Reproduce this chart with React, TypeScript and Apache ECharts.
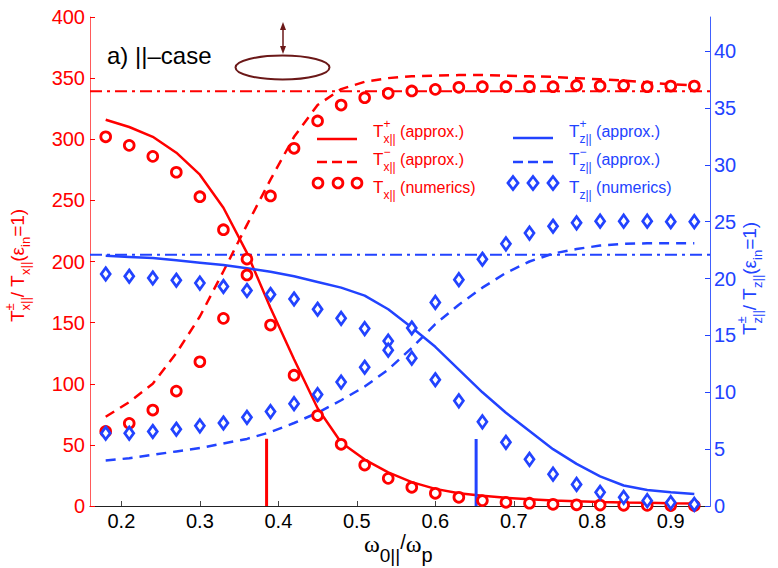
import React, { useEffect, useRef } from "react";
import * as echarts from "echarts";

// ---------------- data ----------------
const X_MIN = 0.16;
const X_MAX = 0.95;
const xTickValues = [0.2, 0.3, 0.4, 0.5, 0.6, 0.7, 0.8, 0.9];
const rightTickValues = [0, 5, 10, 15, 20, 25, 30, 35, 40];

const omega = [0.18, 0.21, 0.24, 0.27, 0.30, 0.33, 0.36, 0.39, 0.42, 0.45, 0.48, 0.51, 0.54,
  0.57, 0.60, 0.63, 0.66, 0.69, 0.72, 0.75, 0.78, 0.81, 0.84, 0.87, 0.90, 0.93];

// left axis (T_x)
const txPlusApprox = [316, 310, 302, 289, 271, 244, 207, 162, 120, 80, 52, 38, 27.5, 19.5, 14,
  10.4, 8.3, 6.7, 5.5, 4.6, 3.9, 3.3, 2.9, 2.6, 2.3, 2.1];
const txMinusApprox = [73, 85, 100, 125, 155, 192, 230, 267, 302, 328, 341, 347, 350, 351.5, 352,
  352.5, 352.5, 352, 351.5, 351, 350, 349, 348, 346.5, 345, 344];
const txPlusNum = [302, 295, 286, 273, 253, 226, 189, 148, 107, 74, 50.5, 33.5, 22.6, 15.3, 10.4,
  7.1, 4.4, 3.0, 2.3, 1.4, 1.0, 0.8, 0.6, 0.5, 0.4, 0.3];
const txMinusNum = [61, 67.6, 78.5, 94, 118, 153.5, 202, 253.6, 292.6, 315, 328, 334, 337.6, 339.5,
  340.8, 342.5, 343, 343, 343, 343, 344, 343.6, 344, 343, 343.5, 343.5];
const txReference = 339.2;
const txResonance = [0.385, 55];

// right axis (T_z)
const tzPlusApprox = [22.0, 21.9, 21.8, 21.6, 21.4, 21.2, 20.9, 20.6, 20.2, 19.7, 19.2, 18.5, 17.3,
  15.7, 14.0, 12.0, 10.0, 8.2, 6.6, 5.0, 3.7, 2.6, 1.8, 1.4, 1.2, 1.05];
const tzMinusApprox = [4.0, 4.2, 4.5, 4.8, 5.1, 5.5, 5.9, 6.5, 7.3, 8.2, 9.3, 10.5, 12.0, 13.9, 16.0,
  17.7, 19.2, 20.5, 21.5, 22.2, 22.6, 22.9, 23.05, 23.1, 23.1, 23.1];
const tzPlusNum = [20.4, 20.2, 20.05, 19.85, 19.6, 19.3, 18.95, 18.6, 18.2, 17.3, 16.5, 15.6, 14.5,
  13.0, 11.1, 9.25, 7.4, 5.6, 4.1, 2.8, 1.9, 1.2, 0.76, 0.47, 0.3, 0.15];
const tzMinusNum = [6.4, 6.4, 6.55, 6.75, 7.05, 7.3, 7.8, 8.3, 9.0, 9.8, 10.9, 12.2, 13.7, 15.65,
  17.9, 19.9, 21.7, 23.05, 24.0, 24.6, 24.9, 25.05, 25.05, 25.05, 25.0, 25.0];
const tzReference = 22.1;
const tzResonance = [0.652, 5.9];

// ---------------- styles ----------------
const RED = "#ff0000";
const BLUE = "#2243ff";
const MAROON = "#6b1818";
const SANS = '"Liberation Sans", Arial, sans-serif';
const SERIF = '"Liberation Serif", "Times New Roman", serif';

const zip = (ys: number[]) => omega.map((x, i) => [x, ys[i]]);

type Piece = { t: string; s: number; dy?: number; f?: string; lh?: number };
type Seg = Piece | { sup: Piece; sub: Piece };

let ctx: CanvasRenderingContext2D | null = null;
function measure(t: string, size: number, fam: string) {
  if (!ctx) ctx = document.createElement("canvas").getContext("2d");
  ctx!.font = `${size}px ${fam}`;
  return ctx!.measureText(t).width;
}

function textEl(p: Piece, x: number, y: number, color: string) {
  return {
    type: "text",
    x,
    y: y + (p.dy || 0),
    silent: true,
    style: {
      text: p.t,
      fill: color,
      fontSize: p.s,
      fontFamily: p.f || SANS,
      lineHeight: p.lh || p.s,
      align: "left",
      verticalAlign: "middle",
    },
  };
}

function layoutRow(segs: Seg[], x0: number, y0: number, color: string) {
  const out: any[] = [];
  let x = x0;
  for (const sg of segs) {
    if ("sup" in sg) {
      if (sg.sup.t) out.push(textEl(sg.sup, x, y0, color));
      out.push(textEl(sg.sub, x, y0, color));
      x += Math.max(
        sg.sup.t ? measure(sg.sup.t, sg.sup.s, sg.sup.f || SANS) : 0,
        measure(sg.sub.t, sg.sub.s, sg.sub.f || SANS)
      );
    } else {
      out.push(textEl(sg, x, y0, color));
      x += measure(sg.t, sg.s, sg.f || SANS);
    }
  }
  return out;
}

function axisName(sub: string, color: string, gx: number, gy: number) {
  const segs: Seg[] = [
    { t: "T", s: 19 },
    { sup: { t: "\u00b1", s: 13, dy: -8, lh: 11 }, sub: { t: sub, s: 13, dy: 8, lh: 11 } },
    { t: "/ T", s: 19 },
    { t: sub, s: 13, dy: 8, lh: 11 },
    { t: "(\u03b5", s: 19 },
    { t: "in", s: 13, dy: 8, lh: 11 },
    { t: "=1)", s: 19 },
  ];
  return {
    type: "group",
    x: gx,
    y: gy,
    rotation: Math.PI / 2,
    children: layoutRow(segs, 0, 0, color),
  };
}

function legendText(sign: string, sub: string, label: string, x: number, y: number, color: string) {
  return layoutRow(
    [
      { t: "T", s: 17 },
      { sup: { t: sign, s: 12, dy: -7, lh: 10 }, sub: { t: sub, s: 12, dy: 8, lh: 10 } },
      { t: " " + label, s: 16 },
    ],
    x,
    y,
    color
  );
}

function diamond(cx: number, cy: number) {
  return {
    type: "polygon",
    shape: { points: [[cx, cy - 6.5], [cx + 5, cy], [cx, cy + 6.5], [cx - 5, cy]] },
    style: { fill: "#fff", stroke: BLUE, lineWidth: 2.8 },
  };
}

function ring(cx: number, cy: number) {
  return {
    type: "circle",
    shape: { cx, cy, r: 4.9 },
    style: { fill: "#fff", stroke: RED, lineWidth: 2.8 },
  };
}

export default function App() {
  const ref = useRef<HTMLDivElement>(null);

  useEffect(() => {
    if (!ref.current) return;
    const chart = echarts.init(ref.current, undefined, { renderer: "svg" });

    const dashDot = [12, 5, 3, 5];
    const lineW = 2.5;

    const graphic: any[] = [
      // title
      {
        type: "text",
        x: 107,
        y: 55,
        style: { text: "a) ||\u2013case", fill: "#000", fontSize: 24, fontFamily: SANS, verticalAlign: "middle" },
      },
      // ellipse with double arrow
      {
        type: "ellipse",
        shape: { cx: 282.5, cy: 67.5, rx: 47, ry: 12 },
        style: { fill: "none", stroke: MAROON, lineWidth: 2 },
      },
      { type: "line", shape: { x1: 283, y1: 27, x2: 283, y2: 49 }, style: { stroke: MAROON, lineWidth: 1.5 } },
      { type: "polygon", shape: { points: [[283, 22], [280, 30], [286, 30]] }, style: { fill: MAROON } },
      { type: "polygon", shape: { points: [[283, 54], [280, 46], [286, 46]] }, style: { fill: MAROON } },
      // legend — red column
      { type: "line", shape: { x1: 317, y1: 139, x2: 357, y2: 139 }, style: { stroke: RED, lineWidth: lineW } },
      { type: "line", shape: { x1: 317, y1: 162, x2: 357, y2: 162 }, style: { stroke: RED, lineWidth: lineW, lineDash: [10, 5] } },
      ring(318, 183), ring(338, 183), ring(357, 183),
      ...legendText("+", "x||", "(approx.)", 373, 131, RED),
      ...legendText("\u2212", "x||", "(approx.)", 373, 159, RED),
      ...legendText("", "x||", "(numerics)", 373, 187, RED),
      // legend — blue column
      { type: "line", shape: { x1: 513, y1: 138, x2: 553, y2: 138 }, style: { stroke: BLUE, lineWidth: lineW } },
      { type: "line", shape: { x1: 513, y1: 162, x2: 553, y2: 162 }, style: { stroke: BLUE, lineWidth: lineW, lineDash: [10, 5] } },
      diamond(513, 183), diamond(533, 183), diamond(553, 183),
      ...legendText("+", "z||", "(approx.)", 569, 131, BLUE),
      ...legendText("\u2212", "z||", "(approx.)", 569, 159, BLUE),
      ...legendText("", "z||", "(numerics)", 569, 187, BLUE),
      // axis names
      axisName("x||", RED, 17, 322),
      axisName("z||", BLUE, 749, 335),
      // x-axis name
      {
        type: "group",
        children: layoutRow(
          [
            { t: "\u03c9", s: 24, f: SERIF, lh: 16 },
            { t: "0||", s: 19, dy: 11, lh: 16 },
            { t: "/", s: 20, dy: -2, lh: 16 },
            { t: "\u03c9", s: 24, f: SERIF, lh: 16 },
            { t: "p", s: 20, dy: 11, lh: 16 },
          ],
          364,
          544,
          "#000"
        ),
      },
    ];

    const common = { symbol: "none", smooth: false };

    const option: any = {
      animation: false,
      backgroundColor: "#fff",
      grid: { left: 90, right: 68, top: 17, bottom: 62, containLabel: false },
      xAxis: {
        type: "value",
        min: X_MIN,
        max: X_MAX,
        axisLine: { show: true, onZero: false, lineStyle: { color: "#222", width: 1 } },
        axisTick: { show: true, inside: true, length: 5, customValues: xTickValues, lineStyle: { color: "#444" } },
        axisLabel: {
          customValues: xTickValues,
          color: "#000",
          fontSize: 20,
          lineHeight: 18,
          fontFamily: SANS,
          margin: 6,
          formatter: (v: number) => v.toFixed(1),
        },
        splitLine: { show: false },
      },
      yAxis: [
        {
          type: "value",
          min: 0,
          max: 400,
          interval: 50,
          position: "left",
          axisLine: { show: true, lineStyle: { color: "#ff5a5a", width: 1 } },
          axisTick: { show: true, inside: true, length: 5, lineStyle: { color: RED } },
          axisLabel: { color: RED, fontSize: 20, fontFamily: SANS, margin: 5 },
          splitLine: { show: false },
        },
        {
          type: "value",
          min: 0,
          max: 43,
          position: "right",
          axisLine: { show: true, lineStyle: { color: "#4060ff", width: 1 } },
          axisTick: { show: true, inside: true, length: 5, customValues: rightTickValues, lineStyle: { color: BLUE } },
          axisLabel: { customValues: rightTickValues, color: BLUE, fontSize: 20, fontFamily: SANS, margin: 4 },
          splitLine: { show: false },
        },
      ],
      graphic,
      series: [
        {
          type: "line",
          yAxisIndex: 0,
          data: [[X_MIN, txReference], [X_MAX, txReference]],
          symbol: "none",
          lineStyle: { color: RED, width: 2, type: dashDot },
          z: 2,
        },
        {
          type: "line",
          yAxisIndex: 1,
          data: [[X_MIN, tzReference], [X_MAX, tzReference]],
          symbol: "none",
          lineStyle: { color: BLUE, width: 2, type: dashDot },
          z: 2,
        },
        { type: "line", yAxisIndex: 0, data: zip(txPlusApprox), ...common, lineStyle: { color: RED, width: lineW }, z: 3 },
        { type: "line", yAxisIndex: 0, data: zip(txMinusApprox), ...common, lineStyle: { color: RED, width: lineW, type: [10, 7] }, z: 3 },
        { type: "line", yAxisIndex: 1, data: zip(tzPlusApprox), ...common, lineStyle: { color: BLUE, width: lineW }, z: 3 },
        { type: "line", yAxisIndex: 1, data: zip(tzMinusApprox), ...common, lineStyle: { color: BLUE, width: lineW, type: [10, 7] }, z: 3 },
        {
          type: "line",
          yAxisIndex: 0,
          data: [[txResonance[0], 0], [txResonance[0], txResonance[1]]],
          symbol: "none",
          lineStyle: { color: RED, width: 3 },
          z: 3,
        },
        {
          type: "line",
          yAxisIndex: 1,
          data: [[tzResonance[0], 0], [tzResonance[0], tzResonance[1]]],
          symbol: "none",
          lineStyle: { color: BLUE, width: 3 },
          z: 3,
        },
        {
          type: "scatter",
          yAxisIndex: 0,
          data: zip(txPlusNum),
          symbol: "circle",
          symbolSize: 9.8,
          itemStyle: { color: "#fff", borderColor: RED, borderWidth: 2.8, opacity: 1 },
          z: 4,
        },
        {
          type: "scatter",
          yAxisIndex: 0,
          data: zip(txMinusNum),
          symbol: "circle",
          symbolSize: 9.8,
          itemStyle: { color: "#fff", borderColor: RED, borderWidth: 2.8, opacity: 1 },
          z: 4,
        },
        {
          type: "scatter",
          yAxisIndex: 1,
          data: zip(tzPlusNum),
          symbol: "diamond",
          symbolSize: [9, 12.5],
          itemStyle: { color: "#fff", borderColor: BLUE, borderWidth: 2.8, opacity: 1 },
          z: 4,
        },
        {
          type: "scatter",
          yAxisIndex: 1,
          data: zip(tzMinusNum),
          symbol: "diamond",
          symbolSize: [9, 12.5],
          itemStyle: { color: "#fff", borderColor: BLUE, borderWidth: 2.8, opacity: 1 },
          z: 4,
        },
      ],
    };

    chart.setOption(option);
    return () => chart.dispose();
  }, []);

  return (
    <div
      ref={ref}
      style={{ position: "absolute", left: 0, top: 0, width: 778, height: 568, background: "#fff" }}
    />
  );
}
